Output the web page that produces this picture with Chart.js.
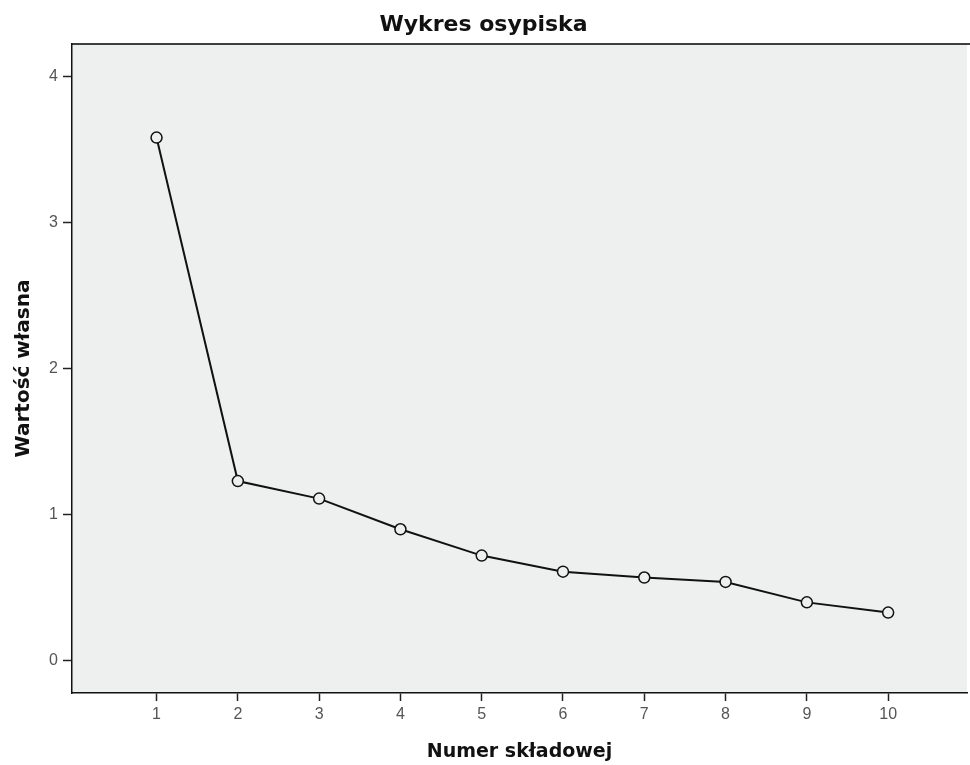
<!DOCTYPE html>
<html lang="pl">
<head>
<meta charset="UTF-8">
<title>Wykres osypiska</title>
<script src="https://cdn.jsdelivr.net/npm/chart.js@4.4.1/dist/chart.umd.min.js"></script>
<style>
    html, body { margin: 0; padding: 0; background: #fff; }
    #wrap { width: 970px; height: 765px; }
</style>
</head>
<body>
<div id="wrap"><canvas id="wykres"></canvas></div>
<script>
    // dane
    const skladowe = [1, 2, 3, 4, 5, 6, 7, 8, 9, 10];
    const wartosciWlasne = [3.58, 1.23, 1.11, 0.90, 0.72, 0.61, 0.57, 0.54, 0.40, 0.33];
    const yTicks = [0, 1, 2, 3, 4];

    const tloWykresu = "#eef0f0";

    // tlo obszaru wykresu + gorna linia ramki
    const tloPlugin = {
        id: "tlo",
        beforeDraw(chart) {
            const { ctx, chartArea: a } = chart;
            ctx.save();
            ctx.fillStyle = tloWykresu;
            ctx.fillRect(a.left, a.top, a.right - a.left, a.bottom - a.top);
            ctx.strokeStyle = "#000";
            ctx.lineWidth = 1.5;
            ctx.beginPath();
            ctx.moveTo(a.left, a.top);
            ctx.lineTo(chart.width, a.top);
            ctx.stroke();
            ctx.restore();
        }
    };

    const dane = skladowe.map((s, i) => ({ x: s, y: wartosciWlasne[i] }));

    new Chart(document.getElementById("wykres"), {
        type: "line",
        data: {
            datasets: [{
                data: dane,
                borderColor: "#111",
                borderWidth: 2,
                pointRadius: 5.5,
                pointBorderWidth: 1.5,
                pointBorderColor: "#111",
                pointBackgroundColor: tloWykresu,
                tension: 0
            }]
        },
        options: {
            responsive: true,
            maintainAspectRatio: false,
            animation: false,
            layout: { autoPadding: false, padding: { right: 3 } },
            plugins: {
                legend: { display: false },
                tooltip: { enabled: false },
                title: {
                    display: true,
                    text: "Wykres osypiska",
                    color: "#111",
                    font: { family: "DejaVu Sans", size: 22, weight: "bold" },
                    padding: { top: 12, bottom: 5.6 }
                }
            },
            scales: {
                x: {
                    type: "linear",
                    min: -0.04,
                    max: 10.97,
                    afterBuildTicks(scale) { scale.ticks = skladowe.map(v => ({ value: v })); },
                    afterFit(scale) { scale.height = 72; },
                    grid: { drawOnChartArea: false, drawTicks: true, tickLength: 8, tickColor: "#222", tickWidth: 1.5 },
                    border: { display: true, color: "#111", width: 1.5 },
                    ticks: {
                        color: "#555",
                        padding: 4,
                        font: { family: "Liberation Sans", size: 16 }
                    },
                    title: {
                        display: true,
                        text: "Numer składowej",
                        color: "#111",
                        font: { family: "DejaVu Sans", size: 19, weight: "bold" },
                        padding: { top: 0, bottom: 2 }
                    }
                },
                y: {
                    min: -0.22,
                    max: 4.22,
                    afterBuildTicks(scale) { scale.ticks = yTicks.map(v => ({ value: v })); },
                    afterFit(scale) { scale.width = 72; },
                    grid: { drawOnChartArea: false, drawTicks: true, tickLength: 9, tickColor: "#222", tickWidth: 1.5 },
                    border: { display: true, color: "#111", width: 1.5 },
                    ticks: {
                        color: "#555",
                        padding: 5,
                        font: { family: "Liberation Sans", size: 16 }
                    },
                    title: {
                        display: true,
                        text: "Wartość własna",
                        color: "#111",
                        font: { family: "DejaVu Sans", size: 20, weight: "bold" },
                        padding: { top: 12, bottom: 0 }
                    }
                }
            }
        },
        plugins: [tloPlugin]
    });
</script>
</body>
</html>
